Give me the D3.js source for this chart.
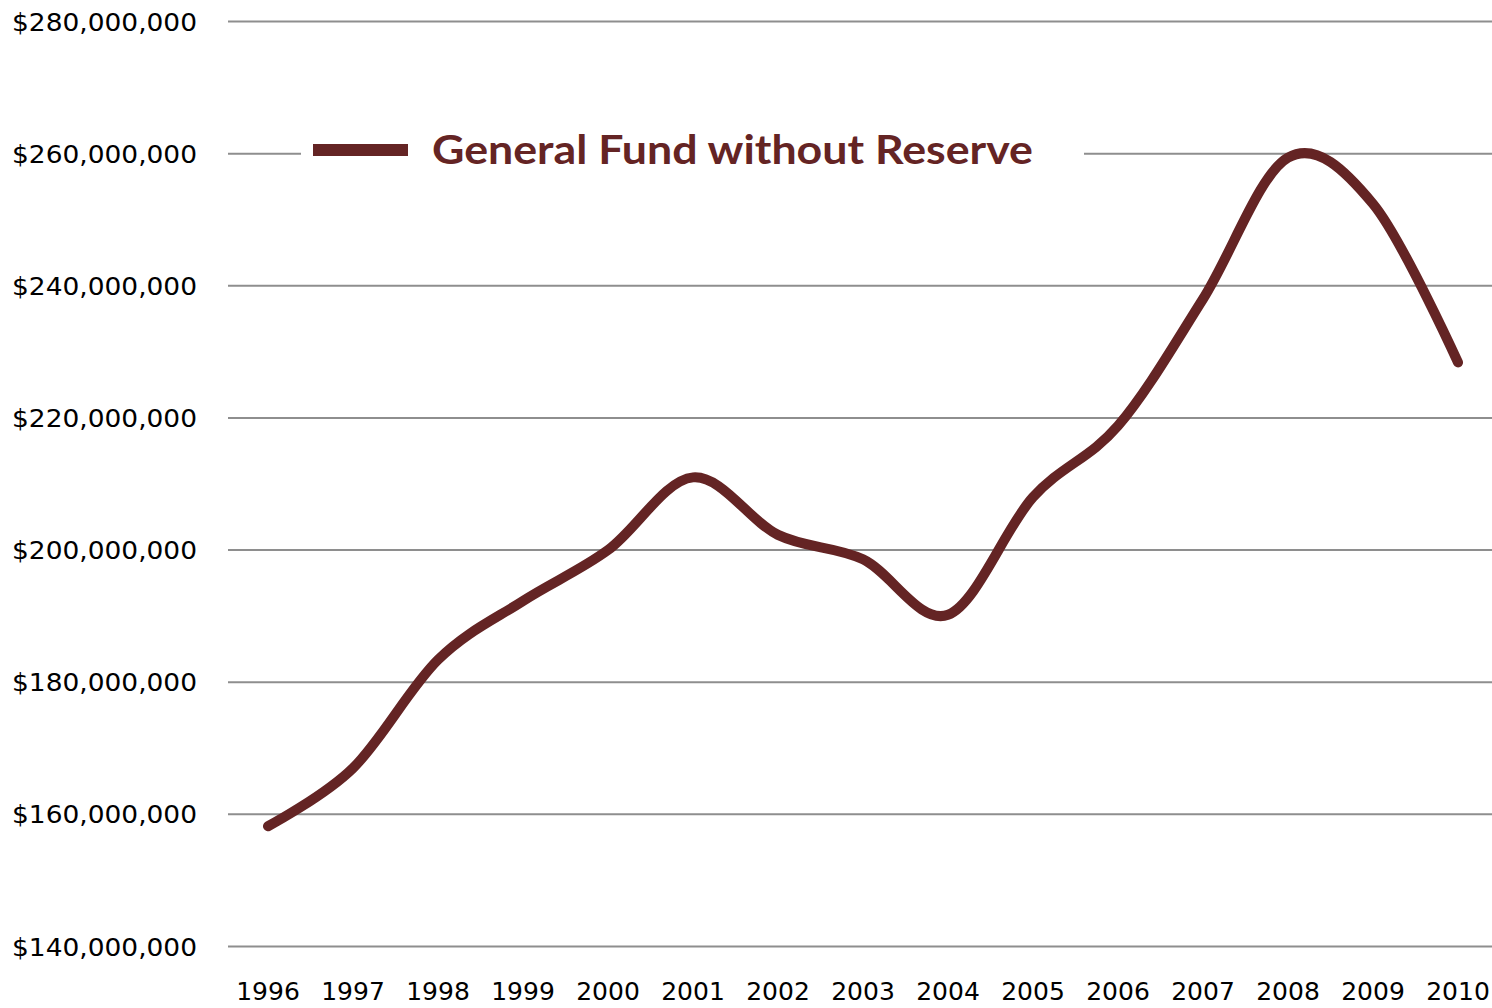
<!DOCTYPE html>
<html>
<head>
<meta charset="utf-8">
<script src="https://cdn.jsdelivr.net/npm/d3@7"></script>
<style>
  body { margin: 0; background: #fff; }
  svg { display: block; font-family: "DejaVu Sans", Lato, sans-serif; }
</style>
</head>
<body>
<svg id="chart" width="1492" height="1008"></svg>
<script>
// data
const years = ["1996", "1997", "1998", "1999", "2000", "2001", "2002", "2003", "2004", "2005", "2006", "2007", "2008", "2009", "2010"];
const fund = [158.2, 167.0, 183.4, 192.3, 200.0, 211.0, 202.3, 198.6, 190.2, 208.0, 218.8, 238.0, 259.4, 252.4, 228.4].map(v => v * 1e6);
const yTicks = [140e6, 160e6, 180e6, 200e6, 220e6, 240e6, 260e6, 280e6];
const seriesName = "General Fund without Reserve";

const lineColor = "#642424";
const svg = d3.select("#chart");

const x = d3.scalePoint().domain(years).range([268, 1458]);
const y = d3.scaleLinear().domain([140e6, 280e6]).range([946.5, 21.5]);

const fmt = v => "$" + d3.format(",")(v);

// gridlines
svg.append("g")
  .selectAll("line")
  .data(yTicks)
  .join("line")
  .attr("x1", 228).attr("x2", 1492)
  .attr("y1", d => y(d)).attr("y2", d => y(d))
  .attr("stroke", "#8e8e8e")
  .attr("stroke-width", 2);

// y labels
svg.append("g")
  .selectAll("text")
  .data(yTicks)
  .join("text")
  .attr("x", 12)
  .attr("y", d => y(d) + 9)
  .attr("font-size", 25)
  .attr("fill", "#000")
  .attr("textLength", 185)
  .attr("lengthAdjust", "spacingAndGlyphs")
  .text(fmt);

// x labels
svg.append("g")
  .selectAll("text")
  .data(years)
  .join("text")
  .attr("x", d => x(d))
  .attr("y", 1000)
  .attr("text-anchor", "middle")
  .attr("font-size", 25)
  .attr("fill", "#000")
  .text(d => d);

// legend box (covers the gridline behind it)
const legend = svg.append("g");
legend.append("rect")
  .attr("x", 301).attr("y", 120)
  .attr("width", 783).attr("height", 60)
  .attr("fill", "#fff");
legend.append("line")
  .attr("x1", 313).attr("x2", 408)
  .attr("y1", 150).attr("y2", 150)
  .attr("stroke", lineColor)
  .attr("stroke-width", 12);
legend.append("text")
  .attr("x", 432).attr("y", 164)
  .attr("font-family", "Lato, 'DejaVu Sans', sans-serif")
  .attr("font-size", 40)
  .attr("font-weight", "bold")
  .attr("fill", lineColor)
  .attr("textLength", 601)
  .attr("lengthAdjust", "spacingAndGlyphs")
  .text(seriesName);

// smoothed series line
const line = d3.line()
  .x((d, i) => x(years[i]))
  .y(d => y(d))
  .curve(d3.curveCardinal.tension(0));

svg.append("path")
  .datum(fund)
  .attr("d", line)
  .attr("fill", "none")
  .attr("stroke", lineColor)
  .attr("stroke-width", 10)
  .attr("stroke-linecap", "round")
  .attr("stroke-linejoin", "round");
</script>
</body>
</html>
